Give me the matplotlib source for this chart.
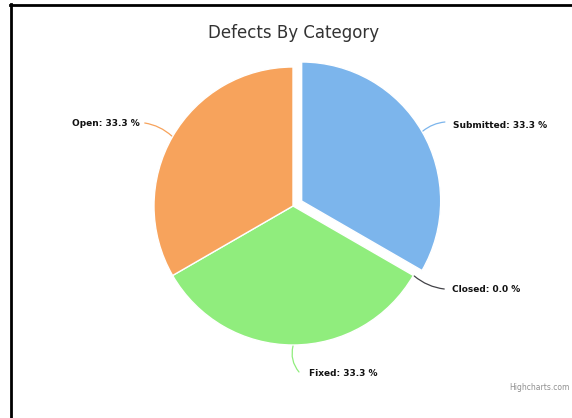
import matplotlib.pyplot as plt
import numpy as np

""" Defects by category pie """

categories = ["Submitted", "Closed", "Fixed", "Open"]
values = [1, 0, 1, 1]
colors = ["#7cb5ec", "#434348", "#90ed7d", "#f7a35c"]

fig = plt.figure(figsize=(5.72, 4.18), dpi=100)
ax = fig.add_axes([0, 0, 1, 1])

# pixel-like coordinates, y grows downward
cx, cy, r = 293, 206, 139
# matplotlib's explode is in data units (not scaled by radius)
wedges, _ = ax.pie(values, colors=colors, center=(cx, cy), radius=r,
                   startangle=-90, counterclock=True,
                   explode=[10, 0, 0, 0],
                   wedgeprops=dict(edgecolor="white", linewidth=1))
ax.set_xlim(0, 572)
ax.set_ylim(418, 0)
ax.set_aspect("equal")
ax.axis("off")

total = sum(values)
# (connector end offset, text offset from end, alignment, curve)
label_opts = {
    "Submitted": ((22, -9), (8, 3), "left", -0.15),
    "Closed": ((30, 13), (8, 1), "left", 0.15),
    "Fixed": ((6, 26), (10, 1), "left", 0.25),
    "Open": ((-27, -13), (-5, 1), "right", 0.15),
}

for w, name, v, col in zip(wedges, categories, values, colors):
    mid = np.deg2rad((w.theta1 + w.theta2) / 2)
    wx, wy = w.center
    sx = wx + (w.r + 1) * np.cos(mid)
    sy = wy + (w.r + 1) * np.sin(mid)
    (dx, dy), (tx, ty), ha, rad = label_opts[name]
    ex, ey = sx + dx, sy + dy
    ax.annotate("", xy=(ex, ey), xytext=(sx, sy),
                arrowprops=dict(arrowstyle="-", color=col, lw=0.9,
                                connectionstyle="arc3,rad=%s" % rad,
                                shrinkA=0, shrinkB=0))
    ax.text(ex + tx, ey + ty, "%s: %.1f %%" % (name, 100.0 * v / total),
            ha=ha, va="center", fontsize=6.5, fontweight="bold", color="#111111")

ax.text(294, 33, "Defects By Category", ha="center", va="center",
        fontsize=12, color="#333333")
ax.text(570, 388, "Highcharts.com", ha="right", va="center",
        fontsize=5.5, color="#909090")

# screenshot border on top and left
ax.plot([10, 572], [4.5, 4.5], color="black", lw=2, clip_on=False)
ax.plot([10.5, 10.5], [4, 418], color="black", lw=2, clip_on=False)

plt.savefig("out.png", dpi=100)
